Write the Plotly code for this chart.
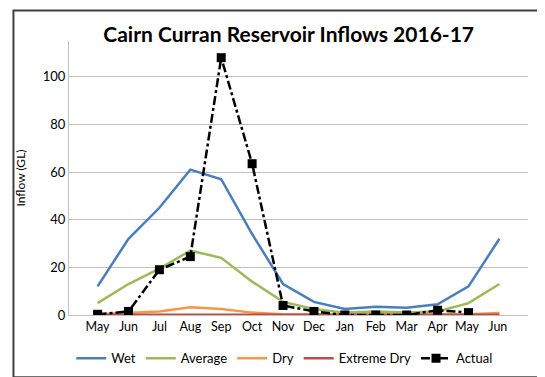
import plotly.graph_objects as go

months = ["May", "Jun", "Jul", "Aug", "Sep", "Oct", "Nov", "Dec", "Jan", "Feb", "Mar", "Apr", "May ", "Jun "]
wet = [12, 32, 45, 61, 57, 34, 13, 5.5, 2.5, 3.5, 3, 4.5, 12, 32]
average = [5, 13, 19.5, 27, 24, 14, 5.5, 2.5, 1, 1.5, 1, 1.5, 5, 13]
dry = [0.3, 0.8, 1.5, 3.3, 2.5, 1, 0.3, 0.2, 0.1, 0.1, 0.1, 0.2, 0.3, 0.8]
extreme_dry = [0.1] * 14
actual = [0.3, 1.5, 19, 24.5, 108, 63.5, 4, 1.5, 0, 0, 0, 2, 1, None]
ticks = [0, 20, 40, 60, 80, 100]

fig = go.Figure()
for name, vals, col in [("Wet", wet, "#4A7EBB"), ("Average", average, "#9BBB59"),
                        ("Dry", dry, "#F79646"), ("Extreme Dry", extreme_dry, "#BE4B48")]:
    fig.add_trace(go.Scatter(x=months, y=vals, name=name, mode="lines",
                             line=dict(color=col, width=2.5)))
fig.add_trace(go.Scatter(x=months, y=actual, name="Actual", mode="lines+markers",
                         line=dict(color="black", width=2.5, dash="dashdot"),
                         marker=dict(symbol="square", size=9, color="black")))

fig.update_layout(
    width=545, height=377,
    margin=dict(l=58, r=25, t=33, b=66),
    paper_bgcolor="white", plot_bgcolor="white",
    font=dict(family="Lato, Liberation Sans, sans-serif", size=12, color="black"),
    title=dict(text="<b>Cairn Curran Reservoir Inflows 2016-17</b>", x=0.515, xanchor="center",
               y=0.928, yanchor="middle", font=dict(size=21, color="black")),
    showlegend=True,
    legend=dict(orientation="h", x=0.47, xanchor="center", y=-0.158, yanchor="middle",
                font=dict(size=13), itemwidth=30, traceorder="normal"),
    xaxis=dict(showgrid=False, showline=True, linecolor="#bfbfbf", ticks="",
               tickfont=dict(size=12.5), fixedrange=True),
    yaxis=dict(range=[0, 115], tickvals=ticks, showgrid=True, gridcolor="#bfbfbf",
               showline=True, linecolor="#bfbfbf", zeroline=False,
               tickfont=dict(size=13, family="Lato, Liberation Sans, sans-serif"),
               tickprefix="<b>", ticksuffix="</b>",
               title=dict(text="Inflow (GL)", font=dict(size=12), standoff=14)),
)
fig.add_shape(type="rect", xref="paper", yref="paper", x0=-0.121, x1=1.043, y0=-0.227, y1=1.111,
              line=dict(color="#404040", width=2), fillcolor="rgba(0,0,0,0)")
fig.write_html("out.html")
